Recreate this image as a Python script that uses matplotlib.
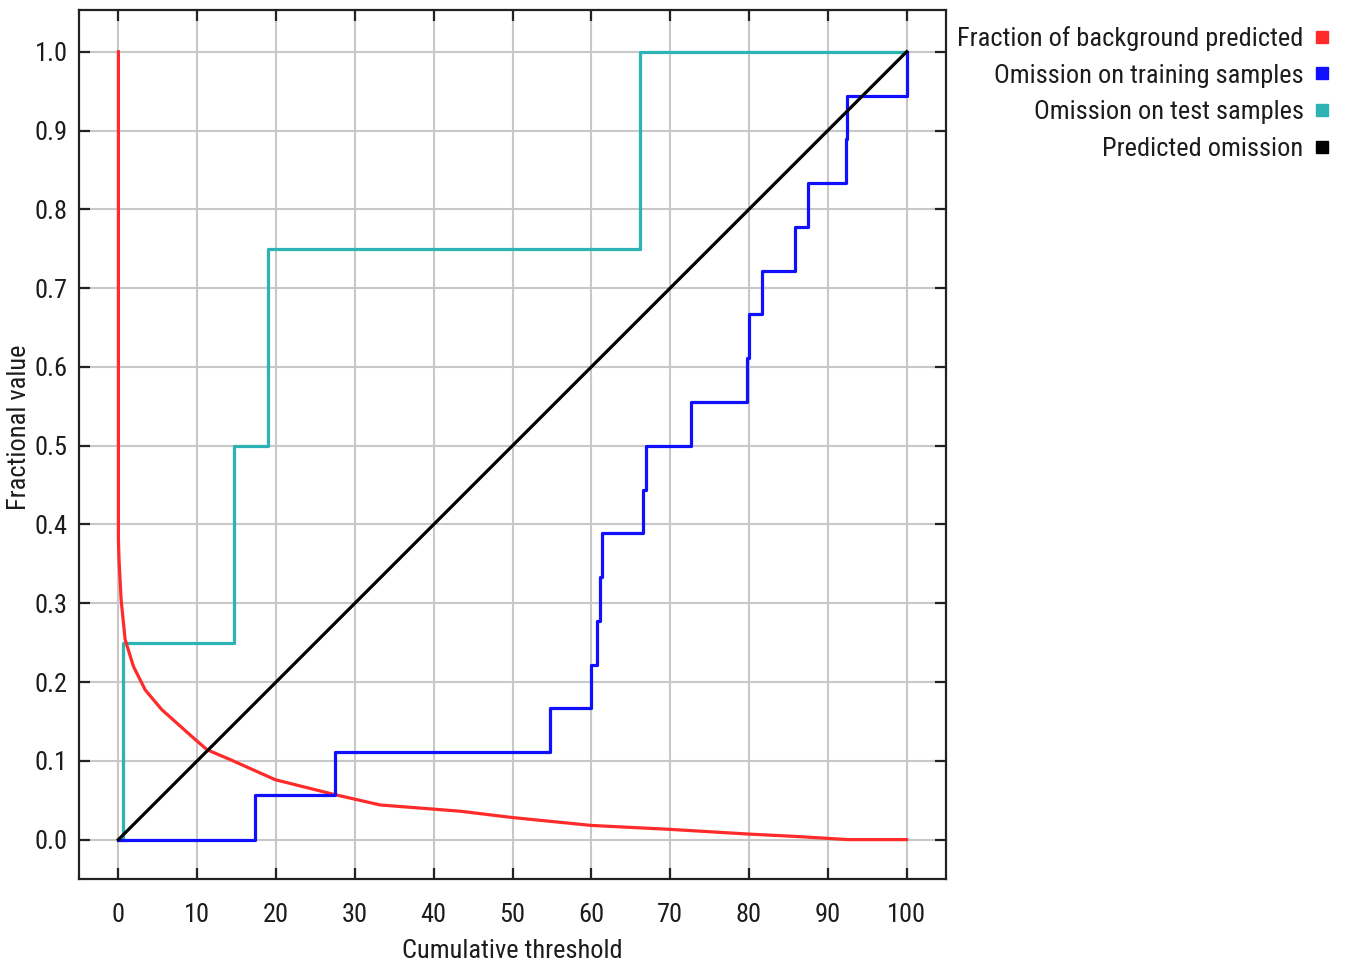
import matplotlib.pyplot as plt
from matplotlib.lines import Line2D

plt.rcParams['font.family'] = ['Roboto Condensed', 'DejaVu Sans']

# fraction of background predicted
bg_x = [0, 0, 0.08, 0.34, 0.85, 1.9, 3.4, 5.5, 9.3, 11.25, 14.2, 19.9, 27.5, 33.2,
        43.4, 50.0, 60.0, 70.0, 80.0, 86.0, 92.6, 100.0]
bg_y = [1.0, 0.381, 0.355, 0.305, 0.254, 0.22, 0.19, 0.165, 0.131, 0.114, 0.1015,
        0.076, 0.057, 0.044, 0.036, 0.028, 0.018, 0.013, 0.007, 0.004, 0.0, 0.0]

# omission on training samples (18 presences)
train_x = [0, 17.3, 17.3, 27.5, 27.5, 54.8, 54.8, 59.9, 59.9, 60.7, 60.7, 61.1, 61.1,
           61.4, 61.4, 61.8, 61.8, 66.6, 66.6, 66.9, 66.9, 67.3, 67.3, 72.6, 72.6,
           79.3, 79.3, 79.7, 79.7, 80.0, 80.0, 81.7, 81.7, 85.9, 85.9, 87.5, 87.5,
           92.3, 92.3, 92.4, 92.4, 92.6, 92.6, 100.0, 100.0]
train_y = [0, 0, 0.056, 0.056, 0.111, 0.111, 0.167, 0.167, 0.222, 0.222, 0.278, 0.278,
           0.333, 0.333, 0.389, 0.389, 0.389, 0.389, 0.444, 0.444, 0.5, 0.5, 0.5, 0.5,
           0.556, 0.556, 0.556, 0.556, 0.611, 0.611, 0.667, 0.667, 0.722, 0.722, 0.778,
           0.778, 0.833, 0.833, 0.889, 0.889, 0.944, 0.944, 0.944, 0.944, 1.0]

# omission on test samples (4 presences)
test_x = [0, 0.63, 0.63, 14.7, 14.7, 19.0, 19.0, 66.2, 66.2, 100.0]
test_y = [0, 0, 0.25, 0.25, 0.5, 0.5, 0.75, 0.75, 1.0, 1.0]

pred_x = [0, 100]
pred_y = [0, 1]

x_ticks = list(range(0, 101, 10))
y_ticks = [i / 10 for i in range(11)]

c_bg = '#ff2a2a'
c_train = '#1010ff'
c_test = '#2db3b3'
c_pred = '#000000'
c_text = '#1c1c1c'

fig = plt.figure(figsize=(13.48, 9.69), dpi=100)
ax = fig.add_axes([79 / 1348, 1 - 879 / 969, (946 - 79) / 1348, (879 - 10) / 969])

ax.plot(test_x, test_y, color=c_test, lw=2.3, zorder=3)
ax.plot(bg_x, bg_y, color=c_bg, lw=2.3, zorder=4)
ax.plot(train_x, train_y, color=c_train, lw=2.3, zorder=5)
ax.plot(pred_x, pred_y, color=c_pred, lw=2.3, zorder=6)

ax.set_xlim(-5, 105)
ax.set_ylim(-0.05, 1.053)
ax.set_xticks(x_ticks)
ax.set_yticks(y_ticks)
ax.set_yticklabels(['%.1f' % v for v in y_ticks])
ax.grid(True, color='#c8c8c8', lw=1.5)
ax.set_axisbelow(True)
ax.tick_params(direction='in', length=8, width=1.6, labelsize=19, top=True, right=True,
               colors='#222222', labelcolor=c_text)
ax.tick_params(axis='x', pad=17)
ax.tick_params(axis='y', pad=8)
for sp in ax.spines.values():
    sp.set_linewidth(1.6)
    sp.set_color('#222222')

ax.set_xlabel('Cumulative threshold', fontsize=19, labelpad=9, color=c_text)
ax.set_ylabel('Fractional value', fontsize=19, color=c_text)
ax.yaxis.set_label_coords(-0.055, 0.52)

handles = [Line2D([], [], ls='none', marker='s', ms=8, color=c)
           for c in (c_bg, c_train, c_test, c_pred)]
labels = ['Fraction of background predicted', 'Omission on training samples',
          'Omission on test samples', 'Predicted omission']
leg = fig.legend(handles, labels, loc='upper right', bbox_to_anchor=(1330 / 1348, 1 - 26 / 969),
                 markerfirst=False, frameon=False, fontsize=19, labelspacing=0.48,
                 handlelength=0.6, handletextpad=0.4, borderaxespad=0, borderpad=0)
for t in leg.get_texts():
    t.set_ha('right')
    t.set_color(c_text)

fig.savefig('out.png', dpi=100)
